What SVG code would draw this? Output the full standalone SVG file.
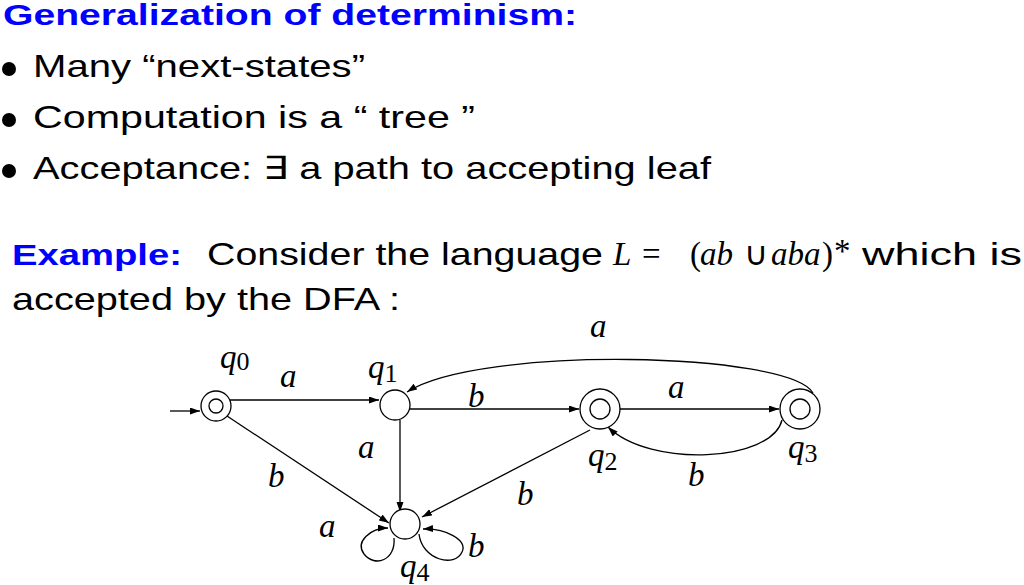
<svg xmlns="http://www.w3.org/2000/svg" width="1024" height="585" viewBox="0 0 1024 585">
<style>
.sans{font-family:"Liberation Sans",Arial,sans-serif;font-size:32px;fill:#000}
.title{font-family:"Liberation Sans",Arial,sans-serif;font-size:29px;font-weight:bold;fill:#0000ff}
.math{font-family:"Liberation Serif","Times New Roman",serif;font-size:33px;font-style:italic;fill:#000}
.up{font-style:normal}
.sub{font-family:"Liberation Serif","Times New Roman",serif;font-style:normal;font-size:26px}
.st{fill:#fff;stroke:#000;stroke-width:1.3}
.edge{fill:none;stroke:#000;stroke-width:1.3}
</style>
<defs>
<marker id="arr" markerWidth="11" markerHeight="8" refX="10" refY="3.5" orient="auto" markerUnits="userSpaceOnUse">
<path d="M0,0 L10,3.5 L0,7 z" fill="#000"/>
</marker>
</defs>
<rect width="1024" height="585" fill="#fff"/>
<g id="header">
<text class="title" x="3" y="25" textLength="574" lengthAdjust="spacingAndGlyphs">Generalization of determinism:</text>
<circle cx="9" cy="69" r="7" fill="#000"/>
<text class="sans" x="33" y="77" textLength="332" lengthAdjust="spacingAndGlyphs">Many “next-states”</text>
<circle cx="9" cy="120" r="7" fill="#000"/>
<text class="sans" x="33" y="128" textLength="442" lengthAdjust="spacingAndGlyphs">Computation is a “ tree ”</text>
<circle cx="9" cy="171" r="7" fill="#000"/>
<text class="sans" x="33" y="179" textLength="678" lengthAdjust="spacingAndGlyphs">Acceptance: ∃ a path to accepting leaf</text>
</g>
<g id="example">
<text class="title" x="12" y="265" textLength="170" lengthAdjust="spacingAndGlyphs">Example:</text>
<text class="sans" x="207" y="265" textLength="396" lengthAdjust="spacingAndGlyphs">Consider the language</text>
<text class="math" y="265"><tspan x="613">L</tspan><tspan class="up" x="642">=</tspan><tspan class="up" x="690">(</tspan><tspan x="700">ab</tspan><tspan class="up" x="744">∪</tspan><tspan x="771">aba</tspan><tspan class="up" x="822">)</tspan></text>
<text class="math up" x="834" y="262" font-size="28">*</text>
<text class="sans" x="862" y="265" textLength="160" lengthAdjust="spacingAndGlyphs">which is</text>
<text class="sans" x="12" y="310" textLength="388" lengthAdjust="spacingAndGlyphs">accepted by the DFA :</text>
</g>
<g id="connectors">
<line class="edge" x1="170" y1="411" x2="200" y2="411" marker-end="url(#arr)"/>
<line class="edge" x1="229" y1="400" x2="379" y2="400" marker-end="url(#arr)"/>
<line class="edge" x1="227" y1="416" x2="389" y2="523" marker-end="url(#arr)"/>
<line class="edge" x1="400" y1="420" x2="400" y2="512" marker-end="url(#arr)"/>
<line class="edge" x1="410" y1="409" x2="579" y2="409" marker-end="url(#arr)"/>
<line class="edge" x1="620" y1="409" x2="779" y2="409" marker-end="url(#arr)"/>
<path class="edge" d="M813 393 C790 352, 480 345, 407 392" marker-end="url(#arr)"/>
<path class="edge" d="M782 420 C772 462, 650 468, 608 427" marker-end="url(#arr)"/>
<line class="edge" x1="590" y1="430" x2="422" y2="517" marker-end="url(#arr)"/>
<path class="edge" d="M394 538 C396 560, 375 568, 364 554 C355 542, 370 528, 388 528" marker-end="url(#arr)"/>
<path class="edge" d="M419 534 C422 560, 455 568, 462 552 C468 540, 445 528, 423 529" marker-end="url(#arr)"/>
</g>
<g id="edge-labels">
<text class="math" x="280" y="387">a</text>
<text class="math" x="358" y="458">a</text>
<text class="math" x="268" y="487">b</text>
<text class="math" x="319" y="537">a</text>
<text class="math" x="468" y="557">b</text>
<text class="math" x="468" y="407">b</text>
<text class="math" x="668" y="398">a</text>
<text class="math" x="590" y="337">a</text>
<text class="math" x="688" y="486">b</text>
<text class="math" x="517" y="505">b</text>
</g>
<g id="q0">
<circle class="st" cx="216" cy="406" r="15"/>
<circle class="st" cx="216" cy="406" r="7"/>
<text class="math" x="220" y="368">q<tspan class="sub" dy="2">0</tspan></text>
</g>
<g id="q1">
<circle class="st" cx="395" cy="405" r="15"/>
<text class="math" x="368" y="378">q<tspan class="sub" dy="4">1</tspan></text>
</g>
<g id="q2">
<circle class="st" cx="600" cy="409" r="20"/>
<circle class="st" cx="600" cy="409" r="10"/>
<text class="math" x="588" y="466">q<tspan class="sub" dy="4">2</tspan></text>
</g>
<g id="q3">
<circle class="st" cx="800" cy="409" r="20"/>
<circle class="st" cx="800" cy="409" r="10"/>
<text class="math" x="788" y="458">q<tspan class="sub" dy="4">3</tspan></text>
</g>
<g id="q4">
<circle class="st" cx="405" cy="524" r="15"/>
<text class="math" x="400" y="577">q<tspan class="sub" dy="4">4</tspan></text>
</g>
</svg>
